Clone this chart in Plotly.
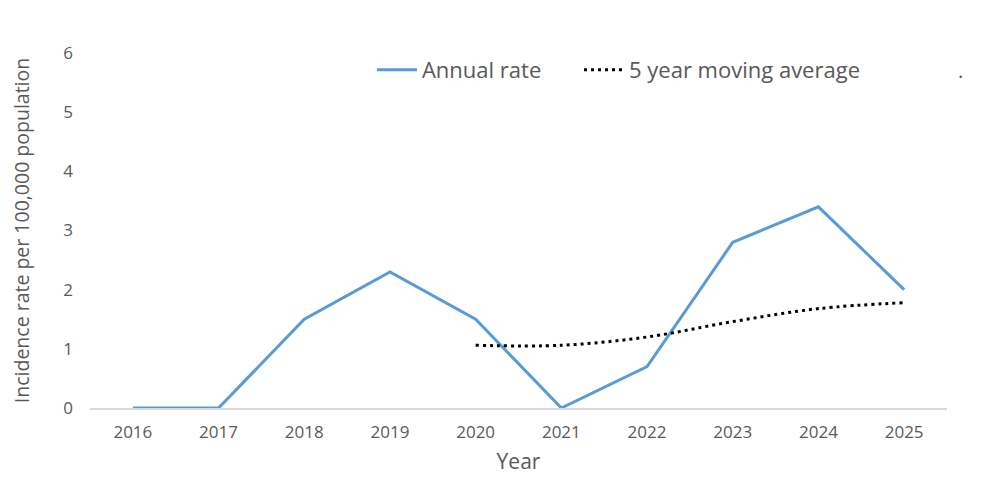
import plotly.graph_objects as go

years = ['2016', '2017', '2018', '2019', '2020', '2021', '2022', '2023', '2024', '2025']
annual_rate = [0, 0, 1.5, 2.3, 1.5, 0, 0.7, 2.8, 3.4, 2.0]
ma_years = ['2020', '2021', '2022', '2023', '2024', '2025']
moving_avg = [1.06, 1.06, 1.2, 1.46, 1.68, 1.78]

grey = '#595959'
font = 'Open Sans'

fig = go.Figure()

fig.add_trace(go.Scatter(
    x=years,
    y=annual_rate,
    name='Annual rate',
    mode='lines',
    line=dict(color='#5B9BD5', width=3),
    legend='legend',
))
fig.add_trace(go.Scatter(
    x=ma_years,
    y=moving_avg,
    name='5 year moving average',
    mode='lines',
    line=dict(color='black', width=3, dash='3px,4px', shape='spline'),
    legend='legend2',
))

leg = dict(orientation='h', y=0.952, xanchor='left', yanchor='middle',
           font=dict(size=22, color=grey), itemwidth=40, bgcolor='rgba(0,0,0,0)')

# page body has an 8px margin, so the margins are shifted to compensate
fig.update_layout(
    width=1000, height=480,
    margin=dict(l=82, r=61, t=45, b=80, autoexpand=False),
    plot_bgcolor='white', paper_bgcolor='white',
    font=dict(family=font, color=grey),
    showlegend=True,
    legend=dict(leg, x=0.329),
    legend2=dict(leg, x=0.5706),
    xaxis=dict(
        type='category', range=[-0.5, 9.5], showgrid=False, showline=True,
        linecolor='#d9d9d9', linewidth=1.5,
        ticks='', tickfont=dict(size=17, color=grey), ticklabelstandoff=8,
        title=dict(text='Year', font=dict(size=21, color=grey), standoff=12),
    ),
    yaxis=dict(
        range=[0, 6], dtick=1, showgrid=False, zeroline=False, showline=False,
        ticks='', tickfont=dict(size=17, color=grey), ticklabelstandoff=16,
        title=dict(text='Incidence rate per 100,000 population', font=dict(size=19.5, color=grey), standoff=36),
    ),
)

fig.add_annotation(x=(965 - 90) / 857, y=(408 - 55) / 355, xref='paper', yref='paper',
                   text='.', showarrow=False, font=dict(size=20, color=grey))

fig.write_html('out.html')
